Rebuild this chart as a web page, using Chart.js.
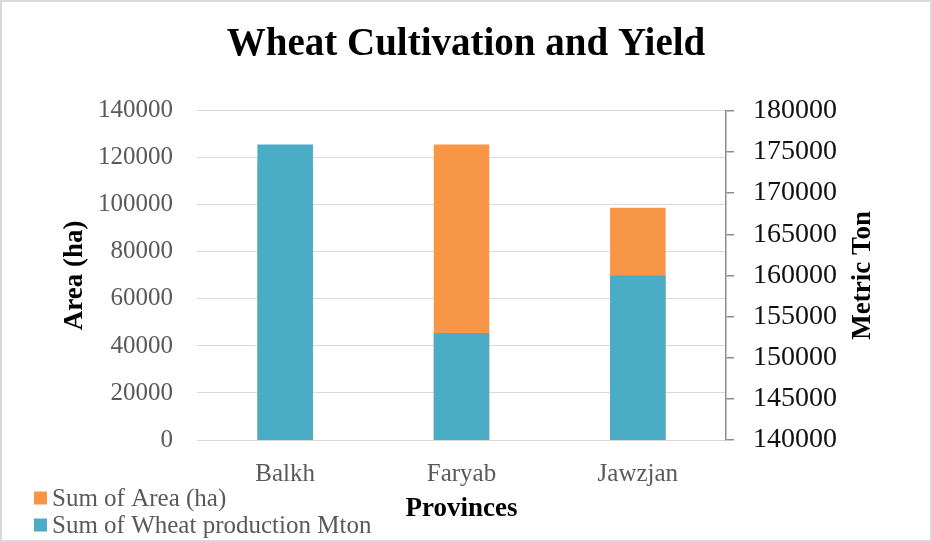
<!DOCTYPE html>
<html>
<head>
<meta charset="utf-8">
<script src="https://cdn.jsdelivr.net/npm/chart.js@4/dist/chart.umd.min.js"></script>
<style>
  html, body { margin: 0; padding: 0; background: #fff; }
  #wrap { width: 932px; height: 542px; position: relative; }
</style>
</head>
<body>
<div id="wrap"><canvas id="c" width="932" height="542"></canvas></div>
<script>
const provinces = ['Balkh', 'Faryab', 'Jawzjan'];
const areaHa = [118000, 125700, 98800];
const productionMton = [175900, 153000, 160000];
const areaTicks = [0, 20000, 40000, 60000, 80000, 100000, 120000, 140000];
const tonTicks = [140000, 145000, 150000, 155000, 160000, 165000, 170000, 175000, 180000];
const seriesNames = ['Sum of Area (ha)', 'Sum of Wheat production Mton'];
const seriesColors = ['#F79646', '#4BACC6'];

Chart.defaults.font.family = "'Liberation Serif', 'DejaVu Serif', serif";

const frame = {
  id: 'frame',
  beforeDraw(chart) {
    const ctx = chart.ctx;
    ctx.save();
    ctx.fillStyle = '#ffffff';
    ctx.fillRect(0, 0, chart.width, chart.height);
    ctx.strokeStyle = '#d9d9d9';
    ctx.lineWidth = 2;
    ctx.strokeRect(1, 1, chart.width - 2, chart.height - 2);
    ctx.restore();
  }
};

const extras = {
  id: 'extras',
  afterDraw(chart) {
    const ctx = chart.ctx;
    const ca = chart.chartArea;
    ctx.save();
    // right axis title, reading bottom to top
    ctx.font = "bold 27px 'Liberation Serif'";
    ctx.fillStyle = '#000000';
    ctx.textAlign = 'center';
    ctx.textBaseline = 'middle';
    ctx.translate(863, (ca.top + ca.bottom) / 2);
    ctx.rotate(-Math.PI / 2);
    ctx.fillText('Metric Ton', 0, 0);
    ctx.restore();

    // legend (vertical, bottom-left)
    ctx.save();
    ctx.font = "25px 'Liberation Serif'";
    ctx.textAlign = 'left';
    ctx.textBaseline = 'middle';
    chart.data.datasets.forEach((ds) => {
      const y = 498 + ds.legendIndex * 27;
      ctx.fillStyle = ds.backgroundColor;
      ctx.fillRect(34, y - 6.5, 13, 13);
      ctx.fillStyle = '#595959';
      ctx.fillText(ds.label, 52, y + 1);
    });
    ctx.restore();
  }
};

const plain = v => String(v);

new Chart(document.getElementById('c'), {
  type: 'bar',
  data: {
    labels: provinces,
    datasets: [
      {
        label: seriesNames[1],
        data: productionMton,
        backgroundColor: seriesColors[1],
        yAxisID: 'y1',
        order: 0,
        legendIndex: 1
      },
      {
        label: seriesNames[0],
        data: areaHa,
        backgroundColor: seriesColors[0],
        yAxisID: 'y',
        order: 1,
        legendIndex: 0
      }
    ]
  },
  options: {
    responsive: false,
    animation: false,
    devicePixelRatio: 1,
    layout: { padding: 0 },
    plugins: {
      legend: { display: false },
      tooltip: { enabled: false },
      title: {
        display: true,
        text: 'Wheat Cultivation and Yield',
        color: '#000000',
        font: { size: 39, weight: 'bold', family: "'Liberation Serif'" },
        padding: { top: 22, bottom: 42 }
      }
    },
    datasets: {
      bar: { grouped: false, barPercentage: 0.315, categoryPercentage: 1 }
    },
    scales: {
      x: {
        grid: { display: false },
        border: { display: false },
        ticks: { color: '#595959', font: { size: 25 }, padding: 11 },
        title: {
          display: true,
          text: 'Provinces',
          color: '#000000',
          font: { size: 27, weight: 'bold' },
          padding: { top: 0, bottom: 17 }
        },
        afterFit(scale) { scale.height = 102; }
      },
      y: {
        position: 'left',
        min: 0,
        max: 140000,
        grid: { color: '#d9d9d9', lineWidth: 1, drawTicks: false },
        border: { display: false },
        ticks: {
          color: '#595959',
          font: { size: 25 },
          padding: 24,
          callback: plain
        },
        afterBuildTicks(scale) { scale.ticks = areaTicks.map(v => ({ value: v })); },
        title: {
          display: true,
          text: 'Area (ha)',
          color: '#000000',
          font: { size: 27, weight: 'bold' },
          padding: { top: 59, bottom: 0 }
        },
        afterFit(scale) { scale.width = 197; }
      },
      y1: {
        position: 'right',
        min: 140000,
        max: 180000,
        grid: { display: true, drawOnChartArea: false, drawTicks: true, tickLength: 8, color: '#8c8c8c', lineWidth: 1.5 },
        border: { display: true, color: '#8c8c8c', width: 1.5 },
        ticks: {
          color: '#111111',
          font: { size: 28 },
          padding: 19,
          callback: plain
        },
        afterBuildTicks(scale) { scale.ticks = tonTicks.map(v => ({ value: v })); },
        afterFit(scale) { scale.width = 206; }
      }
    }
  },
  plugins: [frame, extras]
});
</script>
</body>
</html>
